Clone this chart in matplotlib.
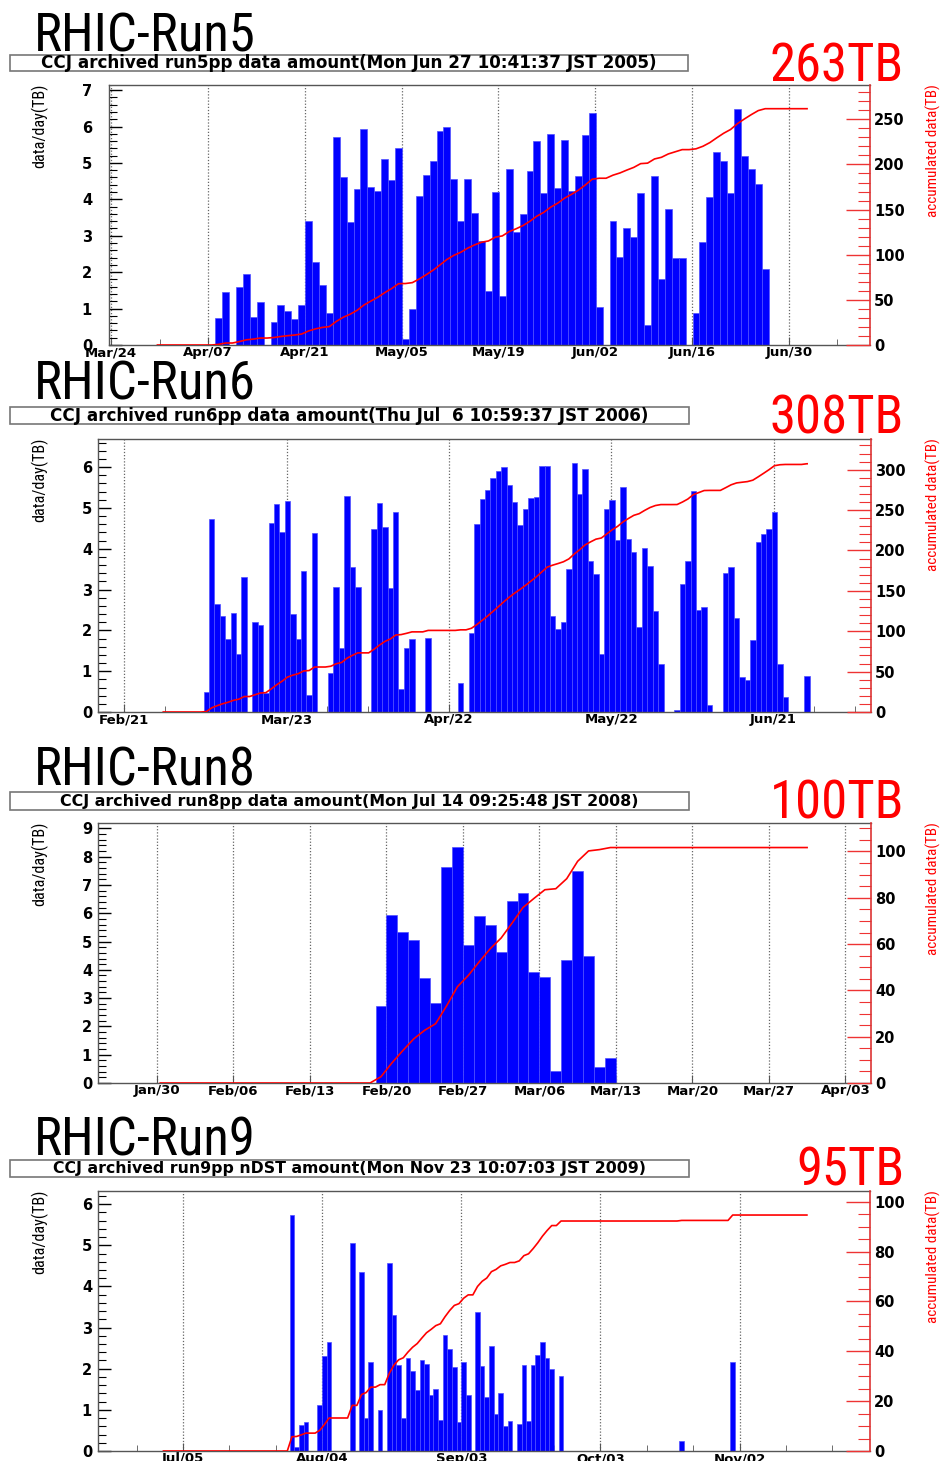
import numpy as np
import matplotlib
matplotlib.use("Agg")
import matplotlib.pyplot as plt
import matplotlib.font_manager as fm
from matplotlib.patches import Rectangle
from matplotlib.ticker import MultipleLocator, FixedLocator

W, H = 946, 1461

# daily archived amount (TB/day), one value per daily bin, starting at "first"
# (days counted from the first date label of each panel)
run5_labels = ["Mar/24", "Apr/07", "Apr/21", "May/05", "May/19", "Jun/02", "Jun/16", "Jun/30"]
run5_first = 15.05
run5_tb = [0.75, 1.45, 0, 1.6, 1.95, 0.78, 1.17, 0, 0.63, 1.1, 0.92, 0.72, 1.1,
           3.4, 2.28, 1.65, 0.88, 5.72, 4.6, 3.38, 4.28, 5.92, 4.35, 4.22, 5.12, 4.53, 5.42,
           0.17, 1.0, 4.08, 4.67, 5.04, 5.88, 6.0, 4.57, 3.4, 4.57, 3.63, 2.86,
           1.47, 4.21, 1.35, 4.83, 3.10, 3.60, 4.79, 5.61, 4.18, 5.79, 4.31, 5.63, 4.22,
           4.63, 5.78, 6.38, 1.05,
           0, 3.4, 2.43, 3.21, 2.97, 4.17, 0.54, 4.64, 1.82, 3.74, 2.39, 2.39, 0,
           0.89, 2.83, 4.06, 5.31, 5.05, 4.18, 6.47, 5.19, 4.83, 4.42, 2.1]

run6_labels = ["Feb/21", "Mar/23", "Apr/22", "May/22", "Jun/21"]
run6_first = 14.66
run6_tb = [0.48, 4.72, 2.64, 2.36, 1.79, 2.43, 1.43, 3.31, 0, 2.21, 2.12, 0.47,
           4.63, 5.1, 4.4, 5.18, 2.39, 1.79, 3.45, 0.42, 4.38, 0, 0, 0.96,
           3.06, 1.58, 5.3, 3.55, 3.06, 0, 0, 4.48, 5.13, 4.53, 3.04, 4.9,
           0.56, 1.57, 1.79, 0, 0, 1.81, 0, 0, 0, 0, 0, 0.71,
           0, 1.94, 4.61, 5.23, 5.43, 5.74, 5.9, 6.0, 5.57, 5.14, 4.59, 4.98,
           5.24, 5.28, 6.02, 6.02, 2.36, 2.03, 2.2, 3.51, 6.09, 5.33, 5.96, 3.69,
           3.39, 1.43, 4.97, 5.2, 4.22, 5.51, 4.25, 3.92, 2.08, 4.01, 3.59, 2.47,
           1.18, 0, 0, 0.06, 3.13, 3.71, 5.41, 2.51, 2.57, 0.16, 0, 0,
           3.41, 3.55, 2.3, 0.85, 0.79, 1.76, 4.17, 4.37, 4.49, 4.89, 1.18, 0.37,
           0, 0, 0, 0.87]

run8_labels = ["Jan/30", "Feb/06", "Feb/13", "Feb/20", "Feb/27", "Mar/06", "Mar/13",
               "Mar/20", "Mar/27", "Apr/03"]
run8_first = 20
run8_tb = [2.73, 5.94, 5.33, 5.07, 3.71, 2.82, 7.65, 8.35, 4.89, 5.91, 5.59, 4.64,
           6.45, 6.72, 3.92, 3.76, 0.43, 4.34, 7.51, 4.48, 0.57, 0.89]

run9_labels = ["Jul/05", "Aug/04", "Sep/03", "Oct/03", "Nov/02"]
run9_first = 23
run9_tb = [5.73, 0.1, 0.64, 0.7, 0, 0, 1.13, 2.3, 2.64, 0,
           0, 0, 0, 5.06, 0, 4.35, 0.8, 2.17, 0, 1.0,
           0, 4.57, 3.31, 2.08, 0.81, 2.27, 1.95, 1.48, 2.22, 2.11,
           1.37, 1.5, 0.75, 2.83, 2.49, 2.04, 0.7, 2.17, 1.36, 0,
           3.38, 2.07, 1.31, 2.55, 0.91, 1.42, 0.61, 0.74, 0, 0.65,
           2.1, 0.74, 2.1, 2.34, 2.64, 2.25, 2.0, 0, 1.82, 0,
           0, 0, 0, 0, 0, 0, 0, 0, 0, 0,
           0, 0, 0, 0, 0, 0, 0, 0, 0, 0,
           0, 0, 0, 0, 0.24, 0, 0, 0, 0, 0,
           0, 0, 0, 0, 0, 2.16]

run_names = ["RHIC-Run5", "RHIC-Run6", "RHIC-Run8", "RHIC-Run9"]
run_totals = ["263TB", "308TB", "100TB", "95TB"]
run_stamps = ["CCJ archived run5pp data amount(Mon Jun 27 10:41:37 JST 2005)",
              "CCJ archived run6pp data amount(Thu Jul  6 10:59:37 JST 2006)",
              "CCJ archived run8pp data amount(Mon Jul 14 09:25:48 JST 2008)",
              "CCJ archived run9pp nDST amount(Mon Nov 23 10:07:03 JST 2009)"]

panels = [
    dict(first=run5_first, tb=run5_tb, labels=run5_labels, major=14, minor=7,
         xlim=(-0.3, 109.7), ymax=7.14, y2max=288, y2major=50, y2minor=10,
         line=(6.7, 100.6), frame=(109, 870, 85, 345), title_y=51, total_y=81,
         stamp=(10, 688, 55, 71), stamp_w=615, total_w=135),
    dict(first=run6_first, tb=run6_tb, labels=run6_labels, major=30, minor=7.5,
         xlim=(-4.86, 138.0), ymax=6.69, y2max=338, y2major=50, y2minor=10,
         line=(7.2, 126.2), frame=(98, 871, 439, 712), title_y=400, total_y=433,
         stamp=(10, 689, 407, 424), stamp_w=600, total_w=135),
    dict(first=run8_first, tb=run8_tb, labels=run8_labels, major=7, minor=None,
         xlim=(-5.4, 65.35), ymax=9.19, y2max=112.3, y2major=20, y2minor=5,
         line=(0.3, 59.5), frame=(98, 871, 823, 1083), title_y=786, total_y=818,
         stamp=(10, 689, 792, 810), stamp_w=575, total_w=135),
    dict(first=run9_first, tb=run9_tb, labels=run9_labels, major=30, minor=10,
         xlim=(-18.3, 148.1), ymax=6.32, y2max=104.3, y2major=20, y2minor=5,
         line=(-4.2, 134.5), frame=(98, 870, 1191, 1451), title_y=1156, total_y=1186,
         stamp=(10, 689, 1160, 1177), stamp_w=592, total_w=108),
]

# pick a narrow face for the big titles if one is installed
installed = {f.name for f in fm.fontManager.ttflist}
narrow = None
for want in ["Liberation Sans Narrow", "Arial Narrow", "Roboto Condensed",
             "Open Sans Condensed", "Noto Sans Condensed", "DejaVu Sans Condensed"]:
    if want in installed:
        narrow = dict(family=want)
        break
if narrow is None:
    for f in fm.fontManager.ttflist:
        if f.stretch in ("condensed", "semi-condensed", "extra-condensed") and \
                f.style == "normal" and f.weight in (400, "normal", "regular"):
            narrow = dict(family=f.name, fontstretch=f.stretch)
            break
if narrow is None:
    narrow = dict(family="Liberation Sans")

BOLD = dict(family="DejaVu Sans", weight="bold")

fig = plt.figure(figsize=(W / 100, H / 100), dpi=100)
renderer = fig.canvas.get_renderer()


def fx(px):
    return px / W


def fy(py):
    return 1 - py / H


def fit(t, target, grow=False):
    # shrink (or grow) the font so the text spans about `target` pixels
    bb = t.get_window_extent(renderer)
    span = max(bb.width, bb.height)
    if span > target or grow:
        t.set_fontsize(t.get_fontsize() * target / span)


for name, total, stamp, p in zip(run_names, run_totals, run_stamps, panels):
    L, R, T, B = p["frame"]
    ax = fig.add_axes([fx(L), fy(B), (R - L) / W, (B - T) / H])
    tb = np.array(p["tb"], dtype=float)
    left = p["first"] + np.arange(len(tb))
    keep = tb > 0
    ax.bar(left[keep], tb[keep], width=1, align="edge", color="#0000ff",
           edgecolor="#5050ff", linewidth=0.5, zorder=2)
    ax.set_xlim(*p["xlim"])
    ax.set_ylim(0, p["ymax"])

    ticks = p["major"] * np.arange(len(p["labels"]))
    ax.xaxis.set_major_locator(FixedLocator(ticks))
    ax.set_xticklabels(p["labels"], fontsize=9.5, **BOLD)
    if p["minor"]:
        ax.xaxis.set_minor_locator(MultipleLocator(p["minor"]))
    ax.grid(axis="x", which="major", linestyle=(0, (1, 1.5)), color="#666666",
            linewidth=0.9, zorder=1)
    ax.set_axisbelow(True)
    ax.tick_params(axis="x", which="major", direction="in", length=6, color="#555555",
                   pad=1)
    ax.tick_params(axis="x", which="minor", direction="in", length=4, color="#555555")

    ax.yaxis.set_major_locator(MultipleLocator(1))
    ax.yaxis.set_minor_locator(MultipleLocator(0.2))
    ax.tick_params(axis="y", which="major", direction="in", length=9, width=1,
                   pad=(L - 92) / 1.389, labelsize=10.5)
    ax.tick_params(axis="y", which="minor", direction="in", length=6, width=0.8)
    for lab in ax.get_yticklabels():
        lab.set_fontweight("bold")
        lab.set_family("DejaVu Sans")

    for side in ["left", "bottom", "top"]:
        ax.spines[side].set_color("#555555")
        ax.spines[side].set_linewidth(1)
    ax.spines["right"].set_visible(False)

    # accumulated amount, right axis
    ax2 = ax.twinx()
    lx = np.concatenate([[p["line"][0], p["first"] - 0.5], left + 0.5, [p["line"][1]]])
    cum = np.cumsum(tb)
    ly = np.concatenate([[0, 0], cum, [cum[-1]]])
    ax2.plot(lx, ly, color="#ff0000", linewidth=1.2, zorder=3)
    ax2.set_ylim(0, p["y2max"])
    ax2.set_xlim(*p["xlim"])
    ax2.yaxis.set_major_locator(MultipleLocator(p["y2major"]))
    ax2.yaxis.set_minor_locator(MultipleLocator(p["y2minor"]))
    ax2.tick_params(axis="y", which="major", direction="in", length=17, width=1,
                    color="#ee3333", pad=3, labelsize=10.5)
    ax2.tick_params(axis="y", which="minor", direction="in", length=9, width=0.8,
                    color="#ee3333")
    for lab in ax2.get_yticklabels():
        lab.set_fontweight("bold")
        lab.set_family("DejaVu Sans")
    ax2.spines["right"].set_color("#dd3333")
    ax2.spines["right"].set_linewidth(1.2)
    for side in ["left", "bottom", "top"]:
        ax2.spines[side].set_visible(False)

    # axis titles
    t = fig.text(fx(40), fy(T - 1), "data/day(TB)", rotation=90, ha="center", va="top",
                 fontsize=13, **narrow)
    fit(t, 84)
    t = fig.text(fx(933), fy(T - 1), "accumulated data(TB)", rotation=90, ha="center",
                 va="top", fontsize=13, color="#ff0000", **narrow)
    fit(t, 132)

    # big titles
    t = fig.text(fx(34), fy(p["title_y"]), name, ha="left", va="baseline",
                 fontsize=38, **narrow)
    fit(t, 232)
    t = fig.text(fx(904), fy(p["total_y"]), total, ha="right", va="baseline",
                 fontsize=38, color="#ff0000", **narrow)
    fit(t, p["total_w"])

    # time stamp box
    x0, x1, y0, y1 = p["stamp"]
    fig.add_artist(Rectangle((fx(x0), fy(y1)), (x1 - x0) / W, (y1 - y0) / H,
                             transform=fig.transFigure, facecolor="white",
                             edgecolor="#777777", linewidth=1.2))
    t = fig.text(fx((x0 + x1) / 2), fy((y0 + y1) / 2 + 0.5), stamp, ha="center",
                 va="center", fontsize=11, **BOLD)
    fit(t, p["stamp_w"], grow=True)

fig.savefig("out.png", dpi=100)
